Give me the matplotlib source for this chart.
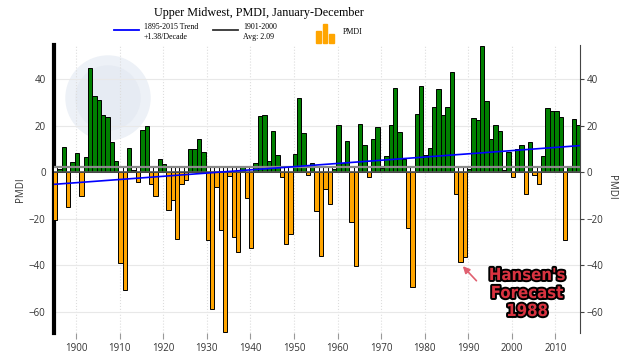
import numpy as np
import matplotlib
matplotlib.use("Agg")
import matplotlib.pyplot as plt
from matplotlib.patches import Rectangle, Ellipse
from matplotlib.lines import Line2D
import matplotlib.patheffects as pe

# Upper Midwest PMDI, January-December, 1895-2015
years = np.arange(1895, 2016)
pmdi = [
    -20.5, 1.5, 10.9, -14.8, 4.4,                                  # 1895-1899
    8.2, -10.2, 6.5, 45.0, 32.8, 31.1, 24.5, 23.7, 13.0, 4.7,      # 1900s
    -39.1, -50.6, 10.3, 1.0, -4.0, 18.1, 19.8, -5.0, -10.2, 5.9,   # 1910s
    3.6, -16.3, -11.8, -28.5, -5.2, -3.4, 10.0, 10.0, 14.3, 8.9,   # 1920s
    -29.1, -58.9, -6.5, -24.9, -68.8, -1.4, -27.7, -34.4, 2.6, -11.2,  # 1930s
    -32.7, 4.2, 24.2, 24.5, 4.7, 17.9, 7.5, -2.0, -31.0, -26.7,    # 1940s
    7.9, 31.8, 17.0, -1.2, 3.9, -16.8, -36.2, -7.2, -13.6, 1.5,    # 1950s
    20.5, 3.9, 13.3, -21.5, -40.3, 20.8, 11.6, -1.9, 14.3, 19.4,   # 1960s
    1.9, 7.2, 20.5, 36.2, 17.5, 5.7, -23.8, -49.5, 25.1, 37.2,     # 1970s
    7.5, 10.6, 28.1, 36.0, 24.5, 28.1, 43.2, -9.2, -38.6, -36.6,   # 1980s
    1.5, 23.2, 22.3, 54.3, 30.6, 14.3, 20.2, 17.9, 1.0, 8.9,       # 1990s
    -2.2, 10.2, 11.6, -9.5, 13.0, -1.2, -5.2, 7.0, 27.8, 26.4,     # 2000s
    26.4, 23.7, -29.0, 2.4, 22.8, 20.5,                            # 2010-2015
]
avg_1901_2000 = 2.09
trend_per_decade = 1.38
trend_1895 = -5.2
tick_years = np.arange(1900, 2011, 10)
y_ticks = [-60, -40, -20, 0, 20, 40]

W, H = 640, 360
fig = plt.figure(figsize=(6.4, 3.6), dpi=100)
ax = fig.add_axes([54 / W, 1 - 333 / H, 526 / W, 288 / H])

pmdi = np.array(pmdi)
colors = np.where(pmdi >= 0, "#008000", "#FFA500")
ax.bar(years, pmdi, width=1, align="edge", color=colors,
       edgecolor="black", linewidth=0.7, zorder=3)
neg = years[pmdi < 0]
ax.bar(neg, avg_1901_2000, width=1, align="edge", color="white",
       edgecolor="black", linewidth=0.7, zorder=3)

ax.axhline(0, color="#555555", lw=1.2, zorder=4)
ax.axhline(avg_1901_2000, color="#8a8a8a", lw=1.6, zorder=4)
tx = np.array([1895, 2016])
ax.plot(tx, trend_1895 + trend_per_decade / 10 * (tx - 1895),
        color="#0000ff", lw=1.2, zorder=5)

# faint NOAA-style watermark
ax.add_patch(Ellipse((108 / W, 1 - 98 / H), 84 / W, 84 / H,
                     transform=fig.transFigure, color="#edf1f7", zorder=0.5))
ax.add_patch(Ellipse((108 / W, 1 - 98 / H), 64 / W, 64 / H,
                     transform=fig.transFigure, color="#e6ebf3", zorder=0.6))

ax.set_xlim(1895.23, 2015.93)
ax.set_ylim(-69.1, 54.75)
ax.set_xticks(tick_years + 0.3)
ax.set_xticklabels([str(y) for y in tick_years])
ax.set_yticks(y_ticks)
ax.grid(axis="y", color="#e8e8e8", lw=0.8, zorder=0)
ax.grid(axis="x", color="#dddddd", lw=0.8, ls=":", zorder=0)
for s in ["top", "bottom", "right"]:
    ax.spines[s].set_visible(False)
ax.spines["left"].set_linewidth(3)
ax.spines["left"].set_color("black")
ax.tick_params(axis="x", length=4, color="#999999", labelsize=7,
               labelcolor="#333333", pad=3)
ax.tick_params(axis="y", length=0, labelsize=7, labelcolor="#333333", pad=6)
for lab in ax.get_xticklabels() + ax.get_yticklabels():
    lab.set_family("Open Sans")

ax2 = ax.twinx()
ax2.set_ylim(ax.get_ylim())
ax2.set_yticks(y_ticks)
for s in ["top", "bottom", "left"]:
    ax2.spines[s].set_visible(False)
ax2.spines["right"].set_color("#444444")
ax2.spines["right"].set_linewidth(0.8)
ax2.tick_params(axis="y", length=3, color="#444444", labelsize=7,
                labelcolor="#333333", pad=2)
for lab in ax2.get_yticklabels():
    lab.set_family("Open Sans")

fig.text(20 / W, 1 - 190 / H, "PMDI", rotation=90, ha="center", va="center",
         fontsize=7, color="#333333", family="Open Sans")
fig.text(612 / W, 1 - 187 / H, "PMDI", rotation=270, ha="center", va="center",
         fontsize=7, color="#333333", family="Open Sans")

# title and legend
fig.text(259 / W, 1 - 13 / H, "Upper Midwest, PMDI, January-December",
         ha="center", va="center", fontsize=8.7, family="Liberation Serif")
fig.add_artist(Line2D([114 / W, 139 / W], [1 - 30 / H] * 2, color="#0000ff", lw=1.3))
fig.text(144 / W, 1 - 32 / H, "1895-2015 Trend\n+1.38/Decade", ha="left",
         va="center", fontsize=5.7, family="Liberation Serif", linespacing=1.4)
fig.add_artist(Line2D([213 / W, 238 / W], [1 - 30 / H] * 2, color="#333333", lw=1.3))
fig.text(243 / W, 1 - 32 / H, "1901-2000\nAvg: 2.09", ha="left",
         va="center", fontsize=5.7, family="Liberation Serif", linespacing=1.4)
for x0, top in [(316, 30.7), (322.7, 24), (329.3, 34)]:
    fig.add_artist(Rectangle((x0 / W, 1 - 42.7 / H), 4.7 / W, (42.7 - top) / H,
                             transform=fig.transFigure, color="#FFA500"))
fig.text(343 / W, 1 - 32 / H, "PMDI", ha="left", va="center",
         fontsize=5.7, family="Liberation Serif")

# annotation
ax.annotate("", xy=(1988.6, -39.5), xytext=(1992.6, -47.5),
            arrowprops=dict(arrowstyle="-|>", color="#e06070", lw=1.2,
                            mutation_scale=10), zorder=6)
fig.text(527 / W, 1 - 293 / H, "Hansen's\nForecast\n1988", ha="center",
         va="center", fontsize=12, weight="bold", color="#d93340",
         family=["Liberation Sans Narrow", "DejaVu Sans"],
         fontstretch="condensed", linespacing=1.0,
         path_effects=[pe.withStroke(linewidth=2.8, foreground="black")])

fig.savefig("out.png", dpi=100)
